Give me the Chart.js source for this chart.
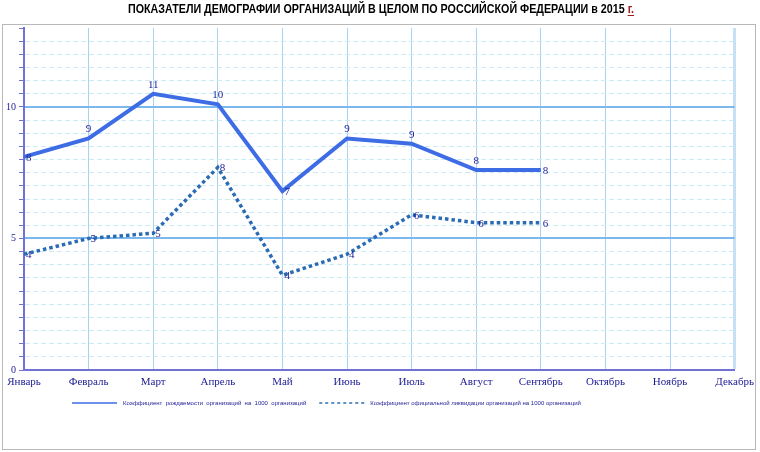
<!DOCTYPE html>
<html>
<head>
<meta charset="utf-8">
<script src="https://cdn.jsdelivr.net/npm/chart.js@4/dist/chart.umd.min.js"></script>
<style>
  body { margin: 0; background: #fff; }
  #wrap { width: 760px; height: 452px; }
</style>
</head>
<body>
<div id="wrap"><canvas id="demography-chart"></canvas></div>
<script>
/* data */
const titleText = 'ПОКАЗАТЕЛИ ДЕМОГРАФИИ ОРГАНИЗАЦИЙ В ЦЕЛОМ ПО РОССИЙСКОЙ ФЕДЕРАЦИИ в 2015 ';
const titleTail = 'г.';
const months = ['Январь', 'Февраль', 'Март', 'Апрель', 'Май', 'Июнь', 'Июль', 'Август', 'Сентябрь', 'Октябрь', 'Ноябрь', 'Декабрь'];
const birthRate = [8.1, 8.8, 10.5, 10.1, 6.8, 8.8, 8.6, 7.6, 7.6];
const closeRate = [4.4, 5.0, 5.2, 7.7, 3.6, 4.4, 5.9, 5.6, 5.6];
const seriesNames = [
    'Коэффициент  рождаемости  организаций  на  1000  организаций',
    'Коэффициент официальной ликвидации организаций на 1000 организаций'
];
const yMax = 13;
const yLabelled = [0, 5, 10];

const navy = '#1c1c94';
const axisColor = '#7272d6';

/* title with the red underlined "г." at the end (narrow look) */
const titlePlugin = {
    id: 'titleDraw',
    afterDraw(chart) {
        const ctx = chart.ctx;
        ctx.save();
        ctx.font = 'bold 12px "Liberation Sans", sans-serif';
        ctx.textBaseline = 'middle';
        const w1 = ctx.measureText(titleText).width;
        const w2 = ctx.measureText(titleTail).width;
        const squeeze = 506 / (w1 + w2);
        ctx.translate(chart.width / 2 + 1, 10);
        ctx.scale(squeeze, 1);
        const x0 = -(w1 + w2) / 2;
        ctx.fillStyle = '#000';
        ctx.fillText(titleText, x0, 0);
        ctx.fillStyle = '#a01818';
        ctx.fillText(titleTail, x0 + w1, 0);
        ctx.fillRect(x0 + w1, 5, w2, 1);
        ctx.restore();
        // outer frame
        ctx.save();
        ctx.strokeStyle = '#b8b8b8';
        ctx.lineWidth = 1;
        ctx.strokeRect(2.5, 24.5, 753, 425);
        ctx.restore();
    }
};

/* value labels next to the points */
const labelPlugin = {
    id: 'valueLabels',
    afterDatasetsDraw(chart) {
        const ctx = chart.ctx;
        ctx.save();
        ctx.font = '11px "Liberation Serif", serif';
        ctx.fillStyle = navy;
        ctx.textBaseline = 'middle';
        chart.data.datasets.forEach((ds, di) => {
            const meta = chart.getDatasetMeta(di);
            meta.data.forEach((pt, i) => {
                const v = ds.data[i];
                const txt = String(Math.round(v));
                const prev = ds.data[i - 1], next = ds.data[i + 1];
                const side = di === 1 || prev === undefined || next === undefined || (v < prev && v < next);
                if (side) {
                    ctx.textAlign = 'left';
                    ctx.fillText(txt, pt.x + 2, pt.y + 1);
                } else {
                    ctx.textAlign = 'center';
                    ctx.fillText(txt, pt.x, pt.y - 9);
                }
            });
        });
        ctx.restore();
    }
};

/* small legend under the axis */
const legendPlugin = {
    id: 'smallLegend',
    afterDraw(chart) {
        const ctx = chart.ctx;
        const area = chart.chartArea;
        const y = area.bottom + 33;
        ctx.save();
        ctx.font = '6px "Liberation Sans", sans-serif';
        ctx.textBaseline = 'middle';
        ctx.textAlign = 'left';
        let x = area.left + 48;
        chart.data.datasets.forEach((ds, di) => {
            ctx.strokeStyle = ds.borderColor;
            ctx.lineWidth = 1.5;
            ctx.setLineDash(di === 1 ? [3, 3] : []);
            ctx.beginPath();
            ctx.moveTo(x, y);
            ctx.lineTo(x + 45, y);
            ctx.stroke();
            ctx.setLineDash([]);
            ctx.fillStyle = navy;
            ctx.fillText(ds.label, x + 51, y);
            x += 51 + ctx.measureText(ds.label).width + 13;
        });
        ctx.restore();
    }
};

function initDemographyChart() {
    const ctx = document.getElementById('demography-chart');
    return new Chart(ctx, {
        type: 'line',
        data: {
            labels: months,
            datasets: [{
                label: seriesNames[0],
                data: birthRate,
                borderColor: '#3d6ce4',
                borderWidth: 4,
                pointRadius: 0,
                tension: 0
            }, {
                label: seriesNames[1],
                data: closeRate,
                borderColor: '#2a6cb4',
                borderWidth: 3.5,
                borderDash: [3.5, 3],
                borderCapStyle: 'butt',
                pointRadius: 0,
                tension: 0
            }]
        },
        options: {
            responsive: true,
            maintainAspectRatio: false,
            animation: false,
            layout: { padding: { top: 28, right: 24, left: 0, bottom: 0 } },
            plugins: {
                legend: { display: false },
                tooltip: { enabled: false }
            },
            scales: {
                x: {
                    offset: false,
                    afterFit: (scale) => { scale.height = 82; },
                    grid: {
                        drawTicks: false,
                        color: (c) => c.index === 0 ? 'rgba(0,0,0,0)' : (c.index === months.length - 1 ? '#c6e1f6' : '#a9d2f2'),
                        lineWidth: (c) => c.index === months.length - 1 ? 3 : 1
                    },
                    border: { color: axisColor, width: 2 },
                    ticks: {
                        padding: 6,
                        maxRotation: 0,
                        autoSkip: false,
                        color: navy,
                        font: { family: '"Liberation Serif", serif', size: 11 }
                    }
                },
                y: {
                    min: 0,
                    max: yMax,
                    afterFit: (scale) => { scale.width = 24; },
                    grid: {
                        color: (c) => (c.tick.value % 5 === 0 || c.tick.value === yMax) ? 'rgba(0,0,0,0)' : '#c8ebf6',
                        tickColor: axisColor,
                        tickLength: 5,
                        lineWidth: 1
                    },
                    border: { color: axisColor, width: 2, dash: [5, 3] },
                    ticks: {
                        stepSize: 0.5,
                        autoSkip: false,
                        padding: 3,
                        color: navy,
                        font: { family: '"Liberation Serif", serif', size: 10 },
                        callback: (v) => yLabelled.includes(v) ? v : ''
                    }
                },
                yMajor: {
                    position: 'left',
                    min: 0,
                    max: yMax,
                    afterFit: (scale) => { scale.width = 0; },
                    grid: {
                        drawTicks: false,
                        color: (c) => (c.tick.value > 0 && c.tick.value < yMax) ? '#7cb8ec' : 'rgba(0,0,0,0)',
                        lineWidth: 2
                    },
                    border: { display: false },
                    ticks: { display: false, stepSize: 5 }
                }
            }
        },
        plugins: [titlePlugin, labelPlugin, legendPlugin]
    });
}

var demographyChart = initDemographyChart();
</script>
</body>
</html>
